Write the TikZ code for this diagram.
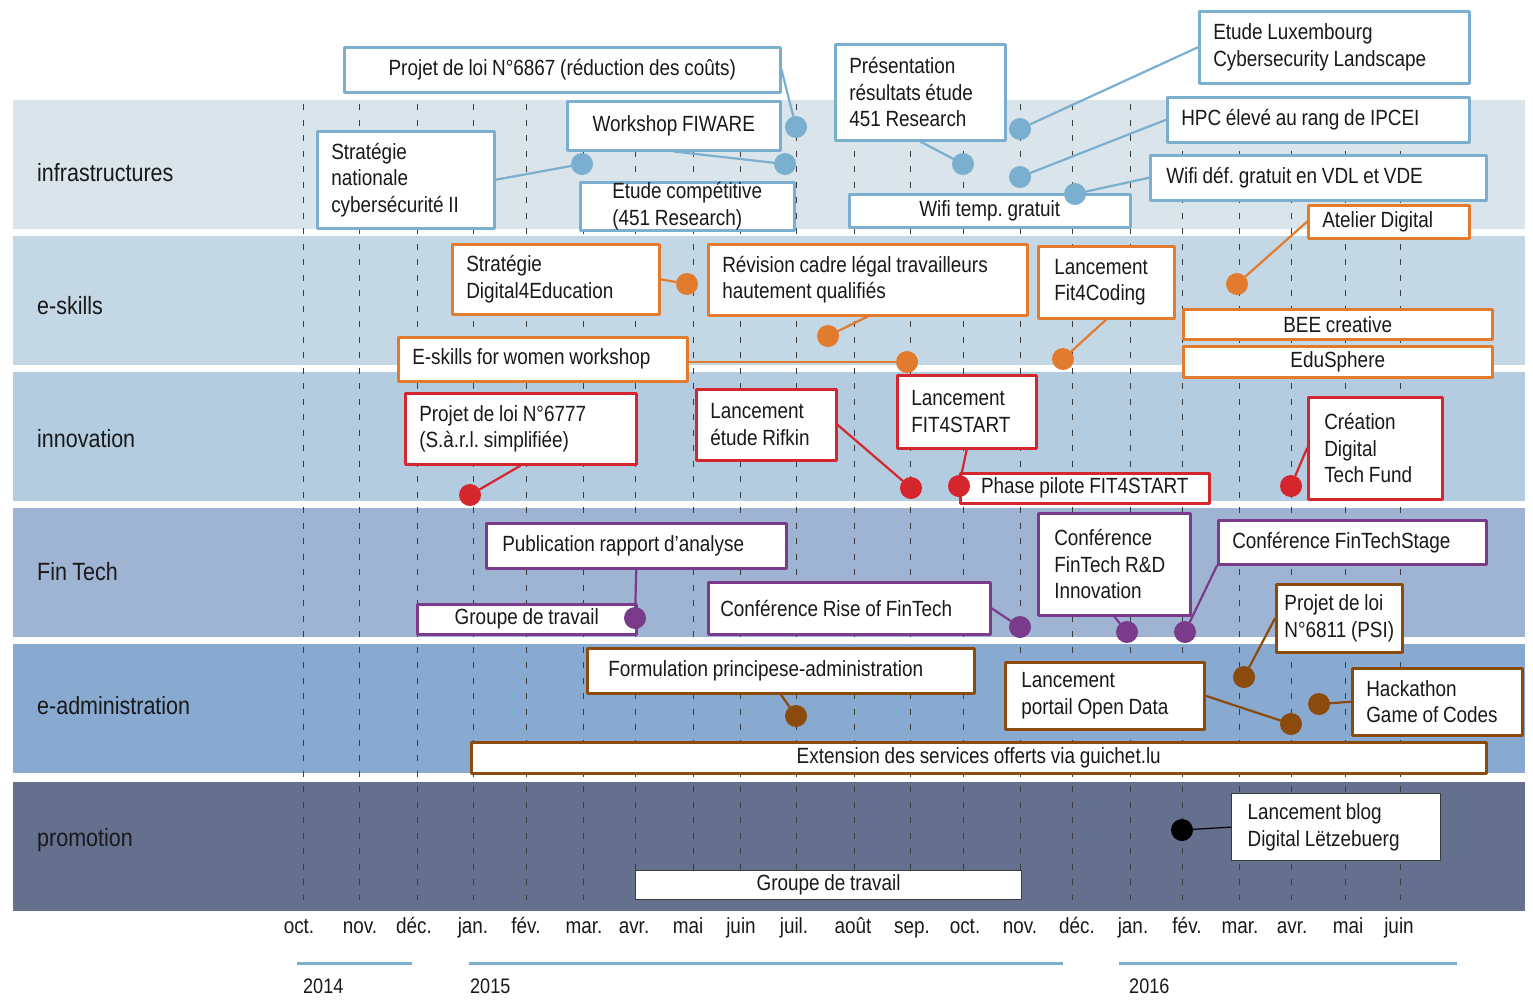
\documentclass[tikz,border=0pt]{standalone}
\usepackage{fontspec}
\setmainfont{Liberation Sans}[FakeStretch=0.86,WordSpace=0.9]
\frenchspacing
\definecolor{binfra}{RGB}{217,229,235}
\definecolor{bskills}{RGB}{195,215,229}
\definecolor{binnov}{RGB}{179,204,224}
\definecolor{bfintech}{RGB}{159,180,211}
\definecolor{badmin}{RGB}{136,169,208}
\definecolor{bpromo}{RGB}{101,112,143}
\definecolor{cblue}{RGB}{122,175,207}
\definecolor{corange}{RGB}{226,123,45}
\definecolor{cred}{RGB}{213,38,45}
\definecolor{cpurple}{RGB}{123,59,139}
\definecolor{cbrown}{RGB}{139,75,12}
\definecolor{cgray}{RGB}{60,60,60}
\definecolor{ctext}{RGB}{25,25,25}
\newcommand\evfont{\fontsize{22}{26.5}\selectfont}
\newcommand\rowfont{\fontsize{25}{29}\selectfont}
\newcommand\monthfont{\fontsize{22}{26}\selectfont}
\newcommand\yearfont{\fontsize{21}{25}\selectfont}
\begin{document}
\begin{tikzpicture}[x=1pt,y=-1pt,line join=round,line cap=round,
	rowlabel/.style={anchor=west,font=\rowfont,text=ctext,inner sep=0pt},
	monthline/.style={draw=cgray,line width=1pt,line cap=butt,dash pattern=on 6pt off 9.5pt},
	monthlabel/.style={anchor=base,font=\monthfont,text=ctext,inner sep=0pt},
	yearline/.style={draw=cblue,line width=3pt,line cap=butt},
	yearlabel/.style={anchor=base west,font=\yearfont,text=ctext,inner sep=0pt},
	evt/.style={draw=#1,fill=white,line width=2.5pt,inner xsep=14pt,inner ysep=0pt,anchor=north west,align=left,font=\evfont,text=ctext,
		execute at begin node={\spaceskip=\fontdimen2\font\relax}},
	evdot/.style={circle,fill=#1,inner sep=0pt,minimum size=22pt},
	lnk/.style={draw=#1,line width=2.2pt}]
	\useasboundingbox (0,0) rectangle (1533,999);
	\foreach \y/\ly/\c/\t in {100/173/binfra/infrastructures,236/306/bskills/e-skills,372/439/binnov/innovation,508/572/bfintech/Fin Tech,644/706/badmin/e-administration,782/840/bpromo/promotion}{
		\fill[\c] (13,\y) rectangle (1525,\y+129);
		\node[rowlabel] (row-\c) at (37,\ly) {\t};
	}
	\foreach \x/\lx/\m [count=\i] in {303/299/oct.,359/360/nov.,417/414/déc.,473/473/jan.,526/526/fév.,583/584/mar.,635/634/avr.,693/688/mai,740/741/juin,796/794/juil.,854/853/août,910/912/sep.,963/965/oct.,1020/1020/nov.,1072/1077/déc.,1130/1133/jan.,1182/1187/fév.,1239/1240/mar.,1291/1292/avr.,1345/1348/mai,1400/1399/juin}{
		\draw[monthline] (\x,104) -- (\x,900);
		\node[monthlabel] (m\i) at (\lx,933) {\m};
	}
	\draw[yearline] (297,963) -- (412,963);
	\draw[yearline] (469,963) -- (1063,963);
	\draw[yearline] (1119,963) -- (1457,963);
	\node[yearlabel] (y2014) at (303,993) {2014};
	\node[yearlabel] (y2015) at (470,993) {2015};
	\node[yearlabel] (y2016) at (1129,993) {2016};

	\node[evt=cblue,minimum width=436pt,minimum height=45pt,align=center] (p6867) at (343,46) {Projet de loi N°6867 (réduction des coûts)};
	\node[evt=cblue,minimum width=213pt,minimum height=49pt,align=center] (fiware) at (566,100) {Workshop FIWARE};
	\node[evt=cblue,text width=149pt,minimum height=97pt] (cyber) at (316,130) {Stratégie\\nationale\\cybersécurité II};
	\node[evt=cblue,minimum width=214pt,minimum height=48pt] (compet) at (579,181) {Etude compétitive\\(451 Research)};
	\node[evt=cblue,text width=142pt,minimum height=96pt] (pres451) at (834,43) {Présentation\\résultats étude\\451 Research};
	\node[evt=cblue,minimum width=281pt,minimum height=33pt,align=center] (wifitemp) at (848,193) {Wifi temp. gratuit};
	\node[evt=cblue,text width=242pt,minimum height=72pt] (luxcyber) at (1198,10) {Etude Luxembourg\\Cybersecurity Landscape};
	\node[evt=cblue,text width=274pt,minimum height=45pt] (hpc) at (1166,96) {HPC élevé au rang de IPCEI};
	\node[evt=cblue,text width=304pt,inner xsep=16pt,minimum height=45pt] (wifidef) at (1149,154) {Wifi déf. gratuit en VDL et VDE};

	\node[evt=corange,text width=133pt,minimum height=33pt] (atelier) at (1307,204) {Atelier Digital};
	\node[evt=corange,text width=179pt,minimum height=70pt] (d4e) at (451,243) {Stratégie\\Digital4Education};
	\node[evt=corange,text width=291pt,minimum height=71pt] (revision) at (707,243) {Révision cadre légal travailleurs\\hautement qualifiés};
	\node[evt=corange,text width=104pt,inner xsep=16pt,minimum height=72pt] (fit4coding) at (1037,245) {Lancement\\Fit4Coding};
	\node[evt=corange,text width=261pt,minimum height=44pt] (ewomen) at (397,336) {E-skills for women workshop};
	\node[evt=corange,minimum width=309pt,minimum height=30pt,align=center] (bee) at (1182,308) {BEE creative};
	\node[evt=corange,minimum width=309pt,minimum height=31pt,align=center] (edusphere) at (1182,345) {EduSphere};

	\node[evt=cred,text width=203pt,minimum height=71pt] (p6777) at (404,392) {Projet de loi N°6777\\(S.à.r.l. simplifiée)};
	\node[evt=cred,text width=112pt,minimum height=71pt] (rifkin) at (695,388) {Lancement\\étude Rifkin};
	\node[evt=cred,text width=111pt,minimum height=73pt] (fit4start) at (896,374) {Lancement\\FIT4START};
	\node[evt=cred,minimum width=249pt,minimum height=30pt,align=center] (pilote) at (959,472) {Phase pilote FIT4START};
	\node[evt=cred,text width=102pt,inner xsep=16pt,minimum height=102pt] (dtfund) at (1307,396) {Création\\Digital\\Tech Fund};

	\node[evt=cpurple,text width=268pt,inner xsep=16pt,minimum height=45pt] (publi) at (485,522) {Publication rapport d’analyse};
	\node[evt=cpurple,minimum width=219pt,minimum height=30pt,align=center] (groupeft) at (416,603) {Groupe de travail};
	\node[evt=cpurple,text width=258pt,inner xsep=12pt,minimum height=52pt] (rise) at (707,581) {Conférence Rise of FinTech};
	\node[evt=cpurple,text width=120pt,inner xsep=16pt,minimum height=102pt] (rnd) at (1037,512) {Conférence\\FinTech R\&D\\Innovation};
	\node[evt=cpurple,text width=240pt,minimum height=44pt] (stage) at (1217,519) {Conférence FinTechStage};

	\node[evt=cbrown,text width=345pt,inner xsep=21pt,minimum height=45pt] (formul) at (586,647) {Formulation principese-administration};
	\node[evt=cbrown,minimum width=1015pt,minimum height=31pt,align=center] (extension) at (470,741) {Extension des services offerts via guichet.lu};
	\node[evt=cbrown,minimum width=126pt,inner xsep=6pt,minimum height=68pt] (p6811) at (1275,583) {Projet de loi\\N°6811 (PSI)};
	\node[evt=cbrown,text width=167pt,inner xsep=16pt,minimum height=67pt] (opendata) at (1004,661) {Lancement\\portail Open Data};
	\node[evt=cbrown,text width=142pt,minimum height=67pt] (hackathon) at (1351,667) {Hackathon\\Game of Codes};

	\node[evt=cgray,line width=1.2pt,minimum width=386pt,minimum height=29pt,align=center] (groupepr) at (635,870) {Groupe de travail};
	\node[evt=cgray,line width=1.2pt,text width=177pt,inner xsep=16pt,minimum height=67pt] (blog) at (1231,793) {Lancement blog\\Digital Lëtzebuerg};

	\node[evdot=cblue] (d6867) at (796,127) {};
	\node[evdot=cblue] (dfiware) at (785,164) {};
	\node[evdot=cblue] (dcyber) at (582,164) {};
	\node[evdot=cblue] (dpres) at (963,164) {};
	\node[evdot=cblue] (dlux) at (1020,129) {};
	\node[evdot=cblue] (dhpc) at (1020,177) {};
	\node[evdot=cblue] (dwifi) at (1075,194) {};
	\node[evdot=corange] (datelier) at (1237,284) {};
	\node[evdot=corange] (dd4e) at (687,284) {};
	\node[evdot=corange] (drevision) at (828,336) {};
	\node[evdot=corange] (dfit4coding) at (1063,359) {};
	\node[evdot=corange] (dewomen) at (907,362) {};
	\node[evdot=cred] (d6777) at (470,495) {};
	\node[evdot=cred] (drifkin) at (911,488) {};
	\node[evdot=cred] (dfit4start) at (959,486) {};
	\node[evdot=cred] (ddtfund) at (1291,486) {};
	\node[evdot=cpurple] (dpubli) at (635,618) {};
	\node[evdot=cpurple] (drise) at (1020,627) {};
	\node[evdot=cpurple] (drnd) at (1127,632) {};
	\node[evdot=cpurple] (dstage) at (1185,632) {};
	\node[evdot=cbrown] (dformul) at (796,716) {};
	\node[evdot=cbrown] (dp6811) at (1244,677) {};
	\node[evdot=cbrown] (dopendata) at (1291,724) {};
	\node[evdot=cbrown] (dhack) at (1319,704) {};
	\node[evdot=black] (dblog) at (1182,830) {};

	\draw[lnk=cblue] (p6867.east) -- (d6867);
	\draw[lnk=cblue] (fiware.south) -- (dfiware);
	\draw[lnk=cblue] (cyber.east) -- (dcyber);
	\draw[lnk=cblue] (pres451.south) -- (dpres);
	\draw[lnk=cblue] (luxcyber.west) -- (dlux);
	\draw[lnk=cblue] (hpc.west) -- (dhpc);
	\draw[lnk=cblue] (wifidef.west) -- (dwifi);
	\draw[lnk=corange] (atelier.west) -- (datelier);
	\draw[lnk=corange] (d4e.east) -- (dd4e);
	\draw[lnk=corange] (revision.south) -- (drevision);
	\draw[lnk=corange] (fit4coding.south) -- (dfit4coding);
	\draw[lnk=corange] (ewomen.east |- dewomen) -- (dewomen);
	\draw[lnk=cred] (p6777.south) -- (d6777);
	\draw[lnk=cred] (rifkin.east) -- (drifkin);
	\draw[lnk=cred] (fit4start.south) -- (dfit4start);
	\draw[lnk=cred] (dtfund.west) -- (ddtfund);
	\draw[lnk=cpurple] (publi.south) -- (dpubli);
	\draw[lnk=cpurple] (rise.east) -- (drise);
	\draw[lnk=cpurple] (rnd.south) -- (drnd);
	\draw[lnk=cpurple] (stage.south west) -- (dstage);
	\draw[lnk=cbrown] (formul.south) -- (dformul);
	\draw[lnk=cbrown] (p6811.west) -- (dp6811);
	\draw[lnk=cbrown] (opendata.east) -- (dopendata);
	\draw[lnk=cbrown] (hackathon.west) -- (dhack);
	\draw[lnk=black,line width=1.2pt] (blog.west) -- (dblog);
\end{tikzpicture}
\end{document}
